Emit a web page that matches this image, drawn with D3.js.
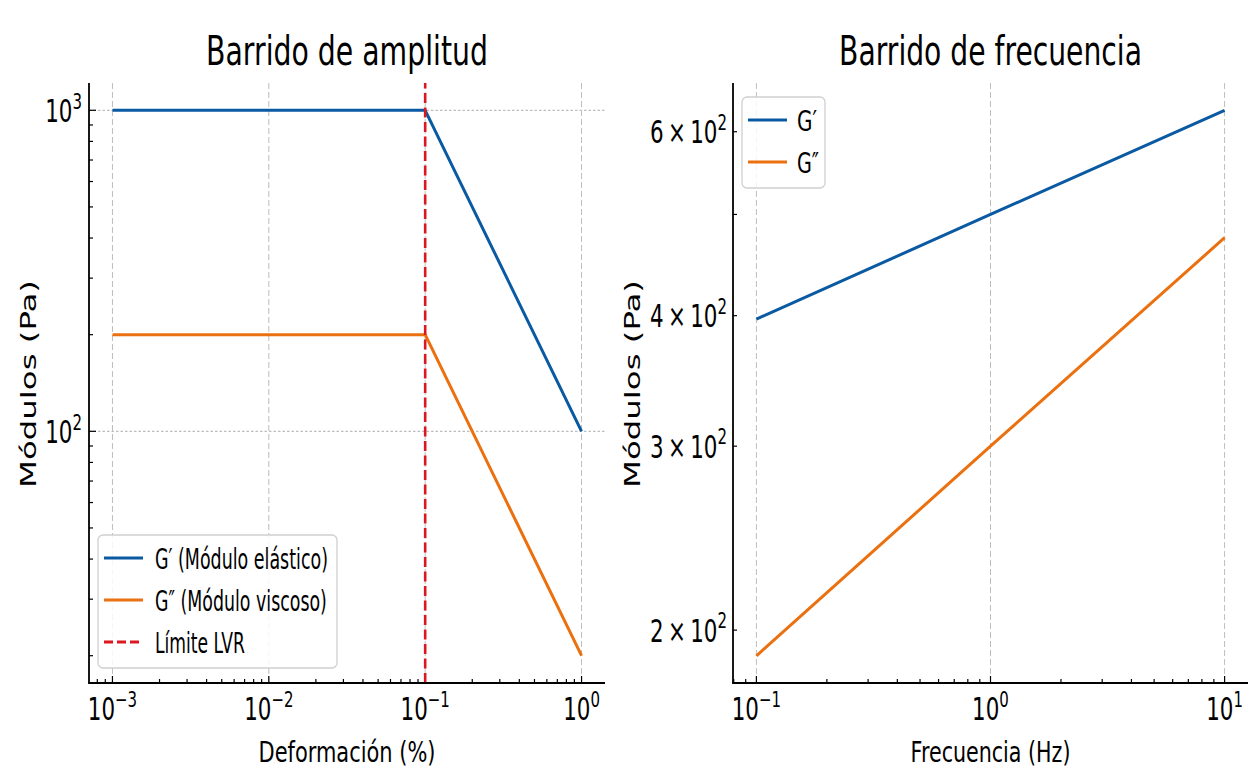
<!DOCTYPE html>
<html>
<head>
<meta charset="utf-8">
<script src="https://cdn.jsdelivr.net/npm/d3@7"></script>
<style>
  html, body { margin: 0; padding: 0; background: #ffffff; }
  svg { display: block; }
  text { font-family: "DejaVu Sans", sans-serif; fill: #000; }
</style>
</head>
<body>
<svg id="chart" width="1255" height="774"></svg>
<script>
// ---------- data ----------
const strainValues = [0.001, 0.1, 1];          // Deformación (%)
const gPrimeAmplitude = [1000, 1000, 100];      // G′ (Pa)
const gDoublePrimeAmplitude = [200, 200, 20];   // G″ (Pa)
const lvrLimit = 0.1;

const frequencyValues = [0.1, 1, 10];           // Hz
const gPrimeFrequency = [397, 500, 629];
const gDoublePrimeFrequency = [189, 300, 475];

const ampXTicks = [1e-3, 1e-2, 1e-1, 1e0];
const ampXTickLabels = [["10", "−3"], ["10", "−2"], ["10", "−1"], ["10", "0"]];
const ampYTicks = [100, 1000];
const ampYTickLabels = [["10", "2"], ["10", "3"]];
const freqXTicks = [0.1, 1, 10];
const freqXTickLabels = [["10", "−1"], ["10", "0"], ["10", "1"]];
const freqYTicks = [200, 300, 400, 600];
const freqYTickLabels = [["2\u2009×\u200910", "2"], ["3\u2009×\u200910", "2"], ["4\u2009×\u200910", "2"], ["6\u2009×\u200910", "2"]];

const titles = ["Barrido de amplitud", "Barrido de frecuencia"];
const xLabels = ["Deformación (%)", "Frecuencia (Hz)"];
const yLabel = "Módulos (Pa)";
const ampLegend = ["G′ (Módulo elástico)", "G″ (Módulo viscoso)", "Límite LVR"];
const freqLegend = ["G′", "G″"];

// ---------- style ----------
const BLUE = "#0a5aa3";
const ORANGE = "#eb700f";
const RED = "#dc1720";
const SX = 0.68; // horizontal compression of glyphs in the reference

const svg = d3.select("#chart");

// horizontal text squeezed to a target width with a transform
function hText(g, x, y, str, size, anchor, length) {
  const t = g.append("text")
    .attr("font-size", size)
    .attr("text-anchor", anchor || "start")
    .text(str);
  const natural = t.node().getComputedTextLength() || 1;
  const s = length ? length / natural : SX;
  t.attr("transform", `translate(${x},${y}) scale(${s},1)`);
  return t;
}

function supLabel(g, x, y, parts, size, anchor) {
  const t = g.append("text")
    .attr("transform", `translate(${x},${y}) scale(${SX},1)`)
    .attr("font-size", size)
    .attr("text-anchor", anchor);
  t.append("tspan").text(parts[0]);
  t.append("tspan").attr("font-size", size * 0.7).attr("dy", -size * 0.42).text(parts[1]);
  return t;
}

function drawPanel(cfg) {
  const g = svg.append("g");
  const x = cfg.x, y = cfg.y;
  const [x0, x1] = x.range();
  const [y0, y1] = y.range(); // y0 bottom, y1 top

  // grid
  cfg.xGrid.forEach(v => {
    g.append("line").attr("x1", x(v)).attr("x2", x(v)).attr("y1", y0).attr("y2", y1)
      .attr("stroke", "#bdbdbd").attr("stroke-width", 1).attr("stroke-dasharray", "6,3");
  });
  cfg.yGrid.forEach(v => {
    g.append("line").attr("x1", x0).attr("x2", x1).attr("y1", y(v)).attr("y2", y(v))
      .attr("stroke", "#bdbdbd").attr("stroke-width", 1.2).attr("stroke-dasharray", "2.5,2");
  });

  // ticks (inward)
  const isMajor = v => Math.abs(Math.log10(v) - Math.round(Math.log10(v))) < 1e-9;
  x.ticks().forEach(v => {
    const L = isMajor(v) ? 7 : 4;
    g.append("line").attr("x1", x(v)).attr("x2", x(v)).attr("y1", y0).attr("y2", y0 - L)
      .attr("stroke", "#000").attr("stroke-width", 1.2);
  });
  const yTicksAll = y.ticks().filter(v => v >= y.domain()[0] && v <= y.domain()[1]);
  yTicksAll.forEach(v => {
    const L = isMajor(v) ? 7 : 4;
    g.append("line").attr("x1", x0).attr("x2", x0 + L).attr("y1", y(v)).attr("y2", y(v))
      .attr("stroke", "#000").attr("stroke-width", 1.2);
  });

  // data lines
  const line = d3.line().x(d => x(d[0])).y(d => y(d[1]));
  cfg.series.forEach(s => {
    g.append("path").datum(s.xs.map((v, i) => [v, s.ys[i]]))
      .attr("d", line).attr("fill", "none")
      .attr("stroke", s.color).attr("stroke-width", 3).attr("stroke-linejoin", "round");
  });

  if (cfg.vline) {
    g.append("line").attr("x1", x(cfg.vline)).attr("x2", x(cfg.vline)).attr("y1", y0).attr("y2", y1)
      .attr("stroke", RED).attr("stroke-width", 2.6).attr("stroke-dasharray", "10,4.5");
  }

  // spines
  g.append("line").attr("x1", x0).attr("x2", x0).attr("y1", y0).attr("y2", y1)
    .attr("stroke", "#000").attr("stroke-width", 1.8);
  g.append("line").attr("x1", x0 - 0.9).attr("x2", x1).attr("y1", y0).attr("y2", y0)
    .attr("stroke", "#000").attr("stroke-width", 1.8);

  // tick labels
  cfg.xTicks.forEach((v, i) => supLabel(g, x(v), 720, cfg.xTickLabels[i], 31.5, "middle"));
  cfg.yTicks.forEach((v, i) => supLabel(g, cfg.yLabelRight, y(v) + 11.5, cfg.yTickLabels[i], 31.5, "end"));

  // title & labels
  const cx = (x0 + x1) / 2;
  hText(g, cx, 65, cfg.title, 41, "middle", cfg.titleLen);
  hText(g, cx, 762, cfg.xLabel, 28.5, "middle", cfg.xLabelLen);
  const yl = g.append("text")
    .attr("font-size", 32).attr("text-anchor", "middle")
    .text(yLabel);
  const ylNat = yl.node().getComputedTextLength() || 1;
  yl.attr("transform", `translate(${cfg.yAxisLabelX},${(y0 + y1) / 2 + 1}) rotate(-90) scale(${208 / ylNat},0.66)`);

  // legend
  const lg = cfg.legend;
  g.append("rect").attr("x", lg.x).attr("y", lg.y).attr("width", lg.w).attr("height", lg.h)
    .attr("rx", 5).attr("ry", 5).attr("fill", "#fff").attr("fill-opacity", 0.85)
    .attr("stroke", "#d0d0d0").attr("stroke-width", 1.3);
  lg.items.forEach((it, i) => {
    const yy = lg.firstY + i * lg.step;
    const l = g.append("line").attr("x1", lg.x + 6).attr("x2", lg.x + 45).attr("y1", yy).attr("y2", yy)
      .attr("stroke", it.color).attr("stroke-width", 3);
    if (it.dash) l.attr("stroke-dasharray", "9,4");
    hText(g, lg.x + lg.textDx, yy + 10.5, it.label, 28, "start", it.len);
  });
}

// ---------- left panel ----------
const xAmp = d3.scaleLog().domain([10 ** -3.15, 10 ** 0.15]).range([89, 605]);
const yAmp = d3.scaleLog().domain([10 ** 1.216, 10 ** 3.085]).range([683, 83]);
drawPanel({
  x: xAmp, y: yAmp,
  xGrid: ampXTicks, yGrid: ampYTicks,
  xTicks: ampXTicks, xTickLabels: ampXTickLabels,
  yTicks: ampYTicks, yTickLabels: ampYTickLabels,
  yLabelRight: 82,
  yAxisLabelX: 36,
  title: titles[0], titleLen: 282,
  xLabel: xLabels[0], xLabelLen: 177,
  series: [
    { xs: strainValues, ys: gPrimeAmplitude, color: BLUE },
    { xs: strainValues, ys: gDoublePrimeAmplitude, color: ORANGE }
  ],
  vline: lvrLimit,
  legend: {
    x: 98, y: 535, w: 239, h: 133, firstY: 558, step: 42, textDx: 57,
    items: [
      { label: ampLegend[0], color: BLUE, len: 173 },
      { label: ampLegend[1], color: ORANGE, len: 172 },
      { label: ampLegend[2], color: RED, dash: true, len: 90 }
    ]
  }
});

// ---------- right panel ----------
const xFreq = d3.scaleLog().domain([10 ** -1.1, 10 ** 1.1]).range([733, 1248]);
const yFreq = d3.scaleLog().domain([10 ** 2.2504, 10 ** 2.8248]).range([683, 83]);
drawPanel({
  x: xFreq, y: yFreq,
  xGrid: freqXTicks, yGrid: [],
  xTicks: freqXTicks, xTickLabels: freqXTickLabels,
  yTicks: freqYTicks, yTickLabels: freqYTickLabels,
  yLabelRight: 727,
  yAxisLabelX: 640,
  title: titles[1], titleLen: 303,
  xLabel: xLabels[1], xLabelLen: 160,
  series: [
    { xs: frequencyValues, ys: gPrimeFrequency, color: BLUE },
    { xs: frequencyValues, ys: gDoublePrimeFrequency, color: ORANGE }
  ],
  legend: {
    x: 742, y: 97, w: 83, h: 91, firstY: 120, step: 42, textDx: 55,
    items: [
      { label: freqLegend[0], color: BLUE, len: 20 },
      { label: freqLegend[1], color: ORANGE, len: 22 }
    ]
  }
});
</script>
</body>
</html>
